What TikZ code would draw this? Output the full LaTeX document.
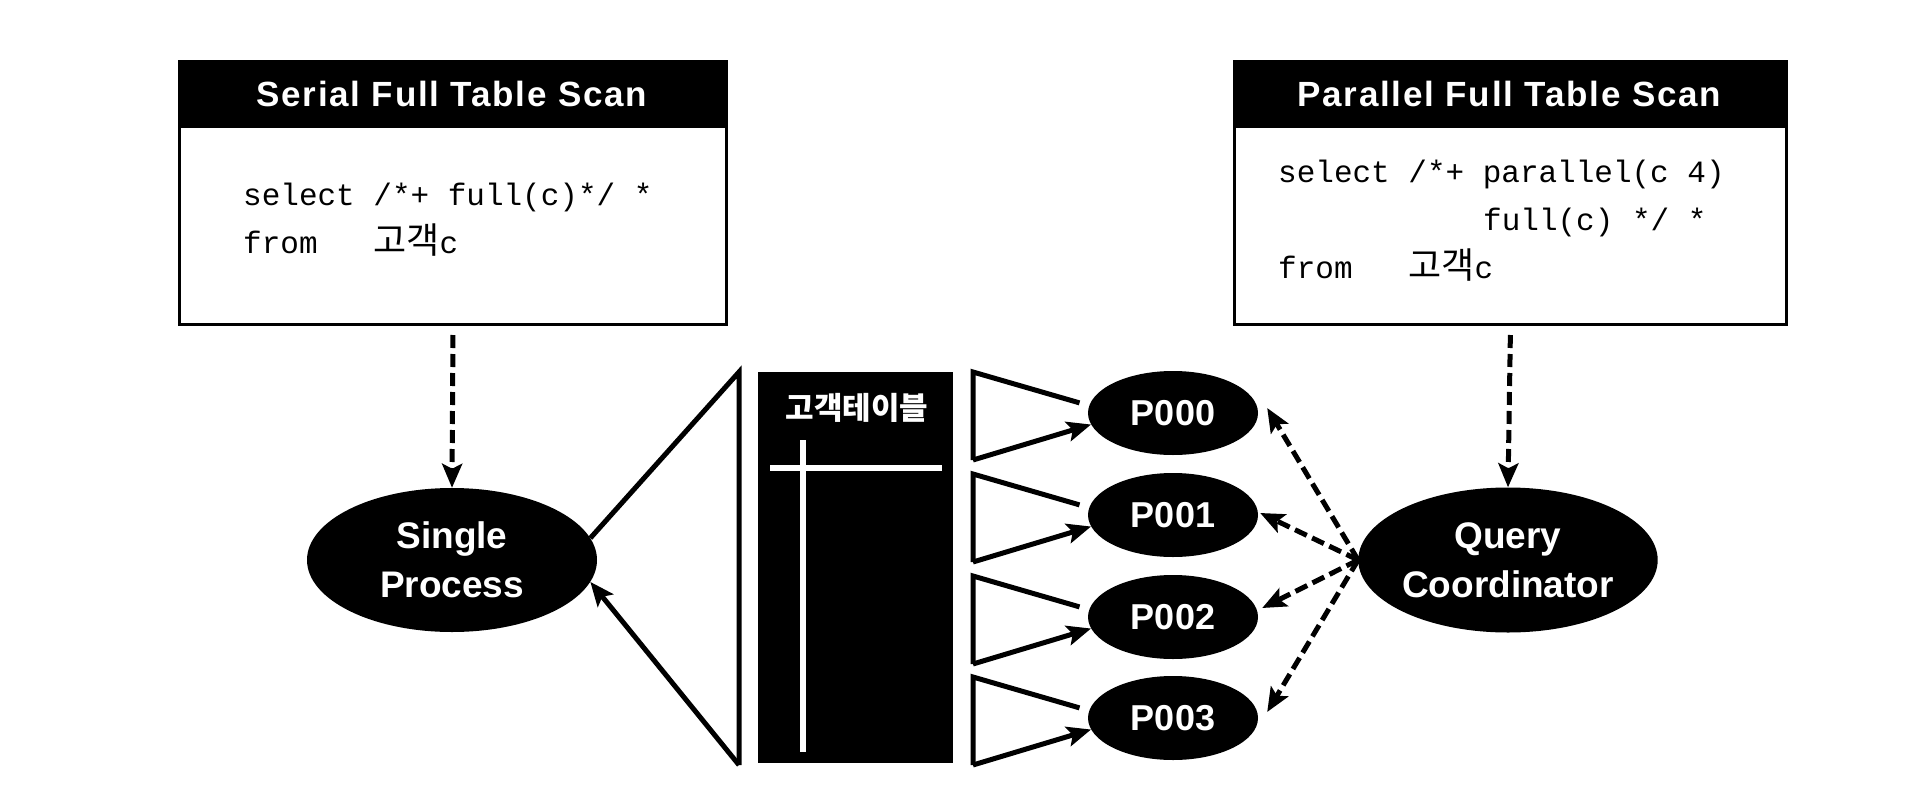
\documentclass[tikz,border=0pt]{standalone}
\usepackage{fontspec}
\setmainfont{Liberation Sans}
\newfontfamily\hfont[LetterSpace=5]{Liberation Sans}
\newfontfamily\monofont{Liberation Mono}
\newfontfamily\cjkfont{Noto Sans CJK KR}
\usetikzlibrary{arrows.meta,shapes.geometric,calc}
\tikzset{
  solidline/.style={line width=5pt},
  dashline/.style={line width=5pt, dash pattern=on 13pt off 6pt},
  tipend/.style={-{Stealth[length=24pt,width=20pt,inset=5pt]}},
  blob/.style={ellipse, fill=black, inner sep=0pt, text=white, align=center,
    font=\fontsize{37}{49}\selectfont\bfseries},
  pblob/.style={blob, minimum width=170pt, minimum height=84pt,
    font=\fontsize{36}{40}\selectfont\bfseries},
  codebox/.style={draw, line width=3pt, fill=white, inner sep=0pt, anchor=north west,
    minimum width=552pt, minimum height=263pt},
  headbar/.style={fill=black, inner sep=0pt, anchor=north west, text=white,
    minimum width=552pt, minimum height=68pt,
    font=\hfont\fontsize{35}{40}\selectfont\bfseries},
  code/.style={anchor=base west, inner sep=0pt, font=\monofont\fontsize{31}{31}\selectfont},
  kor/.style={font=\cjkfont\fontsize{36}{36}\selectfont}
}
\newcommand{\korcode}[1]{{\cjkfont\fontsize{36}{36}\selectfont #1}}
\begin{document}
\begin{tikzpicture}[x=1pt,y=-1pt]
\useasboundingbox (0,0) rectangle (1908,792);
\fill[white] (0,0) rectangle (1908,792);

% left code box
\node[codebox, minimum width=547pt] (lbox) at (178,60) {};
\node[headbar, minimum width=547pt] (lhead) at (178,60) {Serial Full Table Scan};
\node[code] (lc1) at (243,205) {select /*+ full(c)*/ *};
\node[code] (lc2) at (243,253) {from\ \ \ \korcode{고객}c};

% right code box
\node[codebox] (rbox) at (1233,60) {};
\node[headbar] (rhead) at (1233,60) {Parallel Full Table Scan};
\node[code] (rc1) at (1278,182) {select /*+ parallel(c 4)};
\node[code] (rc2) at (1483,230) {full(c) */ *};
\node[code] (rc3) at (1278,278) {from\ \ \ \korcode{고객}c};

% processes
\node[blob, minimum width=290pt, minimum height=144pt] (sp) at (452,560) {Single\\Process};
\node[blob, minimum width=292pt, minimum height=145pt] (qc) at (1508,560) {Query\\Coordinator};
\node[pblob] (p0) at (1173,413) {P000};
\node[pblob] (p1) at (1173,515) {P001};
\node[pblob] (p2) at (1173,617) {P002};
\node[pblob] (p3) at (1173,718) {P003};

% table
\node[fill=black, minimum width=195pt, minimum height=391pt, inner sep=0pt, anchor=north west] (tbl) at (758,372) {};
\node[text=white, inner sep=0pt, font=\cjkfont\fontsize{31}{31}\selectfont\bfseries] (tbltitle) at (857,408) {고객테이블};
\draw[white, line width=6pt] (770,468) -- (942,468);
\draw[white, line width=6pt] (803,440) -- (803,752);

% big triangle
\coordinate (bt) at (739,372);
\coordinate (bb) at (739,765);
\draw[solidline] (sp.9) -- (bt) -- (bb);
\draw[solidline, tipend] (bb) -- (sp.-9);

% small triangles
\foreach \k/\c in {0/413,1/515,2/617,3/718}{
  \coordinate (t\k) at (973,\c-41);
  \coordinate (b\k) at (973,\c+47);
  \draw[solidline, shorten <=10pt] (p\k.175) -- (t\k) -- (b\k);
  \draw[solidline, tipend] (b\k) -- (p\k.188);
}

% dashed arrows
\draw[dashline, tipend, shorten <=9pt] (lbox.south) -- (sp.north);
\draw[dashline, tipend, shorten <=9pt] (rbox.south) -- (qc.north);
\draw[dashline, tipend] (qc.west) -- ($(p0.east)+(9,-5)$);
\draw[dashline, tipend] (qc.west) -- ($(p1.east)+(2,-2)$);
\draw[dashline, tipend] (qc.west) -- ($(p2.east)+(4,-9)$);
\draw[dashline, tipend] (qc.west) -- ($(p3.east)+(9,-6)$);
\end{tikzpicture}
\end{document}
